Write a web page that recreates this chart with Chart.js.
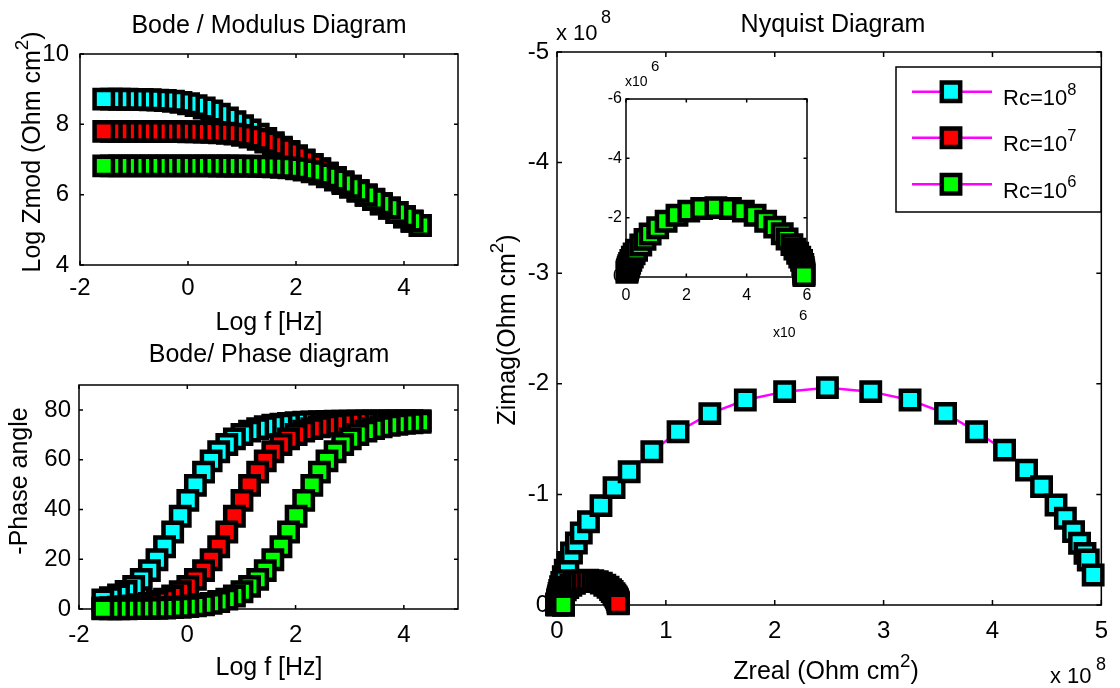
<!DOCTYPE html>
<html><head><meta charset="utf-8">
<script src="https://cdn.jsdelivr.net/npm/chart.js@4"></script>
<style>
html,body{margin:0;padding:0;background:#fff}
body{width:1120px;height:688px;position:relative;overflow:hidden}
canvas{position:absolute;left:0;top:0}
</style></head><body>
<canvas id="cMod" width="1120" height="688"></canvas>
<canvas id="cPh" width="1120" height="688"></canvas>
<canvas id="cNyq" width="1120" height="688"></canvas>
<canvas id="cIn" width="1120" height="688"></canvas>
<script>
// ---------- DATA ----------
const seriesLabels = ['Rc=10', 'Rc=10', 'Rc=10'];
const seriesExponents = ['8', '7', '6'];
const seriesColors = ['#00FFFF', '#FF0000', '#00FF00'];

// log10 of frequency (Hz), low -> high
const logF = [-1.56,-1.42,-1.27,-1.13,-0.99,-0.85,-0.70,-0.56,-0.42,-0.27,-0.13,0.01,0.15,0.30,0.44,0.58,0.73,0.87,1.01,1.15,1.30,1.44,1.58,1.73,1.87,2.01,2.15,2.30,2.44,2.58,2.73,2.87,3.01,3.15,3.30,3.44,3.58,3.73,3.87,4.01,4.15,4.30];

// Bode modulus: log |Z| (Ohm cm2)
const modCyan = [8.717,8.716,8.714,8.712,8.709,8.705,8.699,8.689,8.676,8.656,8.626,8.586,8.532,8.463,8.380,8.286,8.182,8.072,7.958,7.840,7.720,7.599,7.476,7.353,7.230,7.107,6.984,6.860,6.736,6.611,6.487,6.363,6.239,6.115,5.991,5.866,5.742,5.618,5.493,5.369,5.244,5.120];
const modRed = [7.800,7.800,7.799,7.799,7.799,7.799,7.798,7.797,7.796,7.795,7.793,7.791,7.787,7.782,7.774,7.762,7.745,7.720,7.685,7.637,7.574,7.497,7.407,7.306,7.199,7.086,6.970,6.850,6.729,6.608,6.485,6.362,6.239,6.116,5.992,5.868,5.743,5.619,5.495,5.372,5.247,5.123];
const modGreen = [6.820,6.820,6.820,6.820,6.820,6.820,6.820,6.820,6.820,6.820,6.820,6.819,6.819,6.819,6.818,6.817,6.816,6.815,6.813,6.810,6.807,6.801,6.793,6.781,6.763,6.737,6.701,6.651,6.587,6.509,6.418,6.317,6.209,6.096,5.979,5.860,5.739,5.617,5.494,5.372,5.248,5.124];

// Bode phase: -phase angle (deg)
const phCyan = [3.6,4.5,5.6,7.1,9.09,11.89,15.43,19.80,25.01,30.94,37.29,43.65,49.65,55.00,59.51,63.18,66.10,68.36,70.10,71.45,72.46,73.23,73.82,74.25,74.59,74.83,75.03,75.16,75.27,75.35,75.41,75.46,75.49,75.52,75.53,75.55,75.56,75.57,75.58,75.58,75.59,75.59];
const phRed = [0.41,0.54,0.72,0.96,1.27,1.70,2.25,2.99,3.96,5.24,6.92,9.09,11.89,15.43,19.80,25.01,30.94,37.29,43.65,49.65,55.00,59.51,63.18,66.10,68.36,70.10,71.45,72.46,73.23,73.82,74.25,74.59,74.83,75.03,75.16,75.27,75.35,75.41,75.46,75.49,75.52,75.53];
const phGreen = [0.04,0.06,0.08,0.10,0.13,0.17,0.23,0.31,0.41,0.54,0.72,0.96,1.27,1.70,2.25,2.99,3.96,5.24,6.92,9.09,11.89,15.43,19.80,25.01,30.94,37.29,43.65,49.65,55.00,59.51,63.18,66.10,68.36,70.10,71.45,72.46,73.23,73.82,74.25,74.59,74.83,75.03];

// Nyquist, low freq -> high freq
// Rc=10^8 in units of 1e8 Ohm cm2
const nyqCyanRe = [4.925,4.88,4.85,4.80,4.745,4.67,4.584,4.451,4.313,4.111,3.854,3.569,3.243,2.882,2.484,2.091,1.73,1.404,1.112,0.871,0.663,0.524,0.404,0.289,0.223,0.178,0.133,0.10,0.076,0.058,0.044,0.033,0.025,0.019,0.014,0.011,0.008,0.006,0.0045,0.0034];
const nyqCyanIm = [-0.271,-0.407,-0.467,-0.558,-0.663,-0.784,-0.904,-1.07,-1.22,-1.40,-1.567,-1.733,-1.853,-1.929,-1.965,-1.929,-1.853,-1.73,-1.567,-1.386,-1.205,-1.061,-0.898,-0.753,-0.651,-0.561,-0.47,-0.385,-0.315,-0.255,-0.205,-0.165,-0.132,-0.105,-0.083,-0.066,-0.052,-0.041,-0.032,-0.025];
// Rc=10^7 in units of 1e7 Ohm cm2
const nyqRedRe = [5.63,5.63,5.62,5.61,5.56,5.53,5.47,5.41,5.32,5.23,5.07,4.92,4.69,4.39,4.07,3.70,3.29,2.83,2.38,1.97,1.60,1.27,0.99,0.76,0.60,0.46,0.33,0.25,0.20,0.15,0.114,0.087,0.066,0.05,0.038,0.029,0.022,0.017];
const nyqRedIm = [-0.10,-0.16,-0.23,-0.31,-0.46,-0.53,-0.64,-0.76,-0.89,-1.03,-1.22,-1.39,-1.60,-1.79,-1.98,-2.11,-2.20,-2.24,-2.20,-2.11,-1.97,-1.79,-1.58,-1.37,-1.21,-1.02,-0.86,-0.74,-0.64,-0.54,-0.44,-0.36,-0.29,-0.23,-0.18,-0.14,-0.11,-0.085];
// Rc=10^6 in units of 1e6 Ohm cm2
const nyqGreenRe = [5.90,5.90,5.90,5.895,5.89,5.88,5.86,5.82,5.76,5.69,5.60,5.50,5.34,5.18,4.93,4.63,4.28,3.89,3.46,2.98,2.51,2.08,1.69,1.33,1.05,0.80,0.63,0.49,0.35,0.27,0.21,0.16,0.12,0.09,0.07,0.05,0.04,0.03];
const nyqGreenIm = [-0.05,-0.08,-0.11,-0.16,-0.22,-0.31,-0.42,-0.56,-0.67,-0.80,-0.94,-1.09,-1.28,-1.46,-1.68,-1.88,-2.08,-2.22,-2.31,-2.34,-2.31,-2.22,-2.08,-1.88,-1.66,-1.45,-1.27,-1.08,-0.90,-0.78,-0.67,-0.56,-0.46,-0.38,-0.31,-0.25,-0.20,-0.16];

// tick labels
const bodeXTicks = [-2, 0, 2, 4];
const modYTicks = [4, 6, 8, 10];
const phYTicks = [0, 20, 40, 60, 80];
const nyqXTicks = [0, 1, 2, 3, 4, 5];
const nyqYTicks = [-5, -4, -3, -2, -1, 0];
const inXTicks = [0, 2, 4, 6];
const inYTicks = [-6, -4, -2, 0];

// ---------- HELPERS ----------
const W = 1120, H = 688;
const FONT = '"Liberation Sans", Arial, Helvetica, sans-serif';
const LINE = '#FF00FF';

function rich(ctx, parts, x, y, size, align, rot) {
  ctx.save();
  ctx.translate(x, y);
  if (rot) ctx.rotate(rot);
  ctx.textBaseline = 'alphabetic';
  ctx.textAlign = 'left';
  ctx.fillStyle = '#000';
  let total = 0;
  const ws = parts.map(p => {
    ctx.font = (p[1] ? size * 0.75 : size) + 'px ' + FONT;
    const w = ctx.measureText(p[0]).width; total += w; return w;
  });
  let cx = align === 'center' ? -total / 2 : (align === 'right' ? -total : 0);
  parts.forEach((p, i) => {
    ctx.font = (p[1] ? size * 0.75 : size) + 'px ' + FONT;
    ctx.fillText(p[0], cx, p[1] ? -size * 0.47 : 0);
    cx += ws[i];
  });
  ctx.restore();
}
function txt(ctx, s, x, y, size, align) {
  ctx.save(); ctx.font = size + 'px ' + FONT; ctx.fillStyle = '#000';
  ctx.textAlign = align || 'left'; ctx.textBaseline = 'alphabetic';
  ctx.fillText(s, x, y); ctx.restore();
}

function framePlugin(xt, yt, xMul, yMul, tl, lw) {
  return {
    id: 'frame',
    beforeDatasetsDraw(chart) {
      const { ctx, chartArea: a, scales: { x, y } } = chart;
      ctx.save();
      ctx.strokeStyle = '#000'; ctx.lineWidth = lw;
      ctx.strokeRect(a.left, a.top, a.right - a.left, a.bottom - a.top);
      ctx.beginPath();
      xt.forEach(v => {
        const px = x.getPixelForValue(v * xMul);
        ctx.moveTo(px, a.bottom); ctx.lineTo(px, a.bottom - tl);
        ctx.moveTo(px, a.top); ctx.lineTo(px, a.top + tl);
      });
      yt.forEach(v => {
        const py = y.getPixelForValue(v * yMul);
        ctx.moveTo(a.left, py); ctx.lineTo(a.left + tl, py);
        ctx.moveTo(a.right, py); ctx.lineTo(a.right - tl, py);
      });
      ctx.stroke();
      ctx.restore();
    }
  };
}

function ds(points, color, order) {
  return {
    data: points, showLine: true, borderColor: LINE, borderWidth: 2.5,
    pointStyle: 'rect', pointRadius: 13, pointBackgroundColor: color,
    pointBorderColor: '#000', pointBorderWidth: 4.5, clip: false, order: order,
    tension: 0
  };
}
function bodePts(ys) { return logF.map((f, i) => ({ x: f, y: ys[i] })).reverse(); }
function nyqPts(re, im, unit) { return re.map((r, i) => ({ x: r * unit, y: im[i] * unit })).reverse(); }

function scale(min, max, ticks, mul, pad, size, reverse) {
  return {
    type: 'linear', min: min, max: max, reverse: !!reverse,
    grid: { display: false, drawTicks: false }, border: { display: false },
    afterBuildTicks(s) { s.ticks = ticks.map(v => ({ value: v * mul })); },
    ticks: {
      autoSkip: false, maxRotation: 0, minRotation: 0, padding: pad, color: '#000',
      font: { family: FONT, size: size },
      callback: (v) => String(Math.round(v / mul * 1000) / 1000)
    }
  };
}

function make(id, area, xs, ys, datasets, plugins) {
  xs.afterFit = (s) => { s.height = H - area.b; };
  ys.afterFit = (s) => { s.width = area.l; };
  return new Chart(document.getElementById(id), {
    type: 'scatter',
    data: { datasets: datasets },
    options: {
      responsive: false, animation: false, events: [],
      layout: { padding: { left: 0, top: area.t, right: W - area.r, bottom: 0 } },
      plugins: { legend: { display: false }, tooltip: { enabled: false } },
      scales: { x: xs, y: ys }
    },
    plugins: plugins
  });
}

// ---------- BODE MODULUS ----------
const aMod = { l: 80, t: 54, r: 458, b: 265 };
make('cMod', aMod,
  scale(-2, 5, bodeXTicks, 1, 9, 24),
  scale(4, 10, modYTicks, 1, 11, 24),
  [ds(bodePts(modCyan), seriesColors[0], 3), ds(bodePts(modRed), seriesColors[1], 2), ds(bodePts(modGreen), seriesColors[2], 1)],
  [framePlugin(bodeXTicks, modYTicks, 1, 1, 4, 1.5), {
    id: 'txtMod', afterDraw(c) {
      const ctx = c.ctx;
      txt(ctx, 'Bode / Modulus Diagram', 269, 33, 25, 'center');
      txt(ctx, 'Log f [Hz]', 269, 330, 25, 'center');
      rich(ctx, [['Log Zmod (Ohm cm'], ['2', 1], [')']], 40, 152, 25, 'center', -Math.PI / 2);
    }
  }]);

// ---------- BODE PHASE ----------
const aPh = { l: 79, t: 385, r: 458, b: 609 };
make('cPh', aPh,
  scale(-2, 5, bodeXTicks, 1, 12, 24),
  scale(0, 90, phYTicks, 1, 8, 24),
  [ds(bodePts(phCyan), seriesColors[0], 3), ds(bodePts(phRed), seriesColors[1], 2), ds(bodePts(phGreen), seriesColors[2], 1)],
  [framePlugin(bodeXTicks, phYTicks, 1, 1, 4, 1.5), {
    id: 'txtPh', afterDraw(c) {
      const ctx = c.ctx;
      txt(ctx, 'Bode/ Phase diagram', 269, 362, 25, 'center');
      txt(ctx, 'Log f [Hz]', 269, 675, 25, 'center');
      rich(ctx, [['-Phase angle']], 27, 481, 25, 'center', -Math.PI / 2);
    }
  }]);

// ---------- NYQUIST ----------
const aNyq = { l: 557, t: 52, r: 1110, b: 605 };
make('cNyq', aNyq,
  scale(0, 5e8, nyqXTicks, 1e8, 12, 24),
  scale(-5e8, 0, nyqYTicks, 1e8, 8, 24, true),
  [ds(nyqPts(nyqCyanRe, nyqCyanIm, 1e8), seriesColors[0], 3),
   ds(nyqPts(nyqRedRe, nyqRedIm, 1e7), seriesColors[1], 2),
   ds(nyqPts(nyqGreenRe, nyqGreenIm, 1e6), seriesColors[2], 1)],
  [framePlugin(nyqXTicks, nyqYTicks, 1e8, 1e8, 5, 1.5), {
    id: 'txtNyq', afterDraw(c) {
      const ctx = c.ctx;
      txt(ctx, 'Nyquist Diagram', 833, 32, 25, 'center');
      rich(ctx, [['Zreal (Ohm cm'], ['2', 1], [')']], 826, 679, 25, 'center');
      rich(ctx, [['Zimag(Ohm cm'], ['2', 1], [')']], 515, 330, 25, 'center', -Math.PI / 2);
      txt(ctx, 'x 10', 556, 40, 22, 'left');
      txt(ctx, '8', 601, 23, 18, 'left');
      txt(ctx, 'x 10', 1050, 683, 22, 'left');
      txt(ctx, '8', 1096, 670, 18, 'left');
      // legend
      const L = { l: 896, t: 67, r: 1101, b: 212 };
      ctx.save();
      ctx.fillStyle = '#fff'; ctx.fillRect(L.l, L.t, L.r - L.l, L.b - L.t);
      ctx.strokeStyle = '#000'; ctx.lineWidth = 1.5; ctx.strokeRect(L.l, L.t, L.r - L.l, L.b - L.t);
      const rows = [91.7, 137.7, 184.3];
      rows.forEach((ry, i) => {
        ctx.strokeStyle = LINE; ctx.lineWidth = 2.5;
        ctx.beginPath(); ctx.moveTo(912, ry); ctx.lineTo(992, ry); ctx.stroke();
        const s = 13 * Math.SQRT1_2;
        ctx.fillStyle = seriesColors[i]; ctx.strokeStyle = '#000'; ctx.lineWidth = 4.5;
        ctx.beginPath(); ctx.rect(951 - s, ry - s, 2 * s, 2 * s); ctx.fill(); ctx.stroke();
        rich(ctx, [[seriesLabels[i]], [seriesExponents[i], 1]], 1003, ry + 13.5, 22, 'left');
      });
      ctx.restore();
    }
  }]);

// ---------- INSET ----------
const aIn = { l: 626, t: 99, r: 807, b: 277 };
make('cIn', aIn,
  scale(0, 6e6, inXTicks, 1e6, 9, 16),
  scale(-6e6, 0, inYTicks, 1e6, 4, 16, true),
  [ds(nyqPts(nyqGreenRe, nyqGreenIm, 1e6), seriesColors[2], 1)],
  [{ id: 'bgIn', beforeDraw(c) { const a = c.chartArea; c.ctx.save(); c.ctx.fillStyle = '#fff'; c.ctx.fillRect(a.left, a.top, a.right - a.left, a.bottom - a.top); c.ctx.restore(); } },
   framePlugin(inXTicks, inYTicks, 1e6, 1e6, 3.5, 1.5), {
    id: 'txtIn', afterDraw(c) {
      const ctx = c.ctx;
      txt(ctx, 'x10', 625, 86, 14, 'left');
      txt(ctx, '6', 651, 71, 15, 'left');
      txt(ctx, 'x10', 773, 337, 14, 'left');
      txt(ctx, '6', 799, 320, 15, 'left');
    }
  }]);
</script>
</body></html>
